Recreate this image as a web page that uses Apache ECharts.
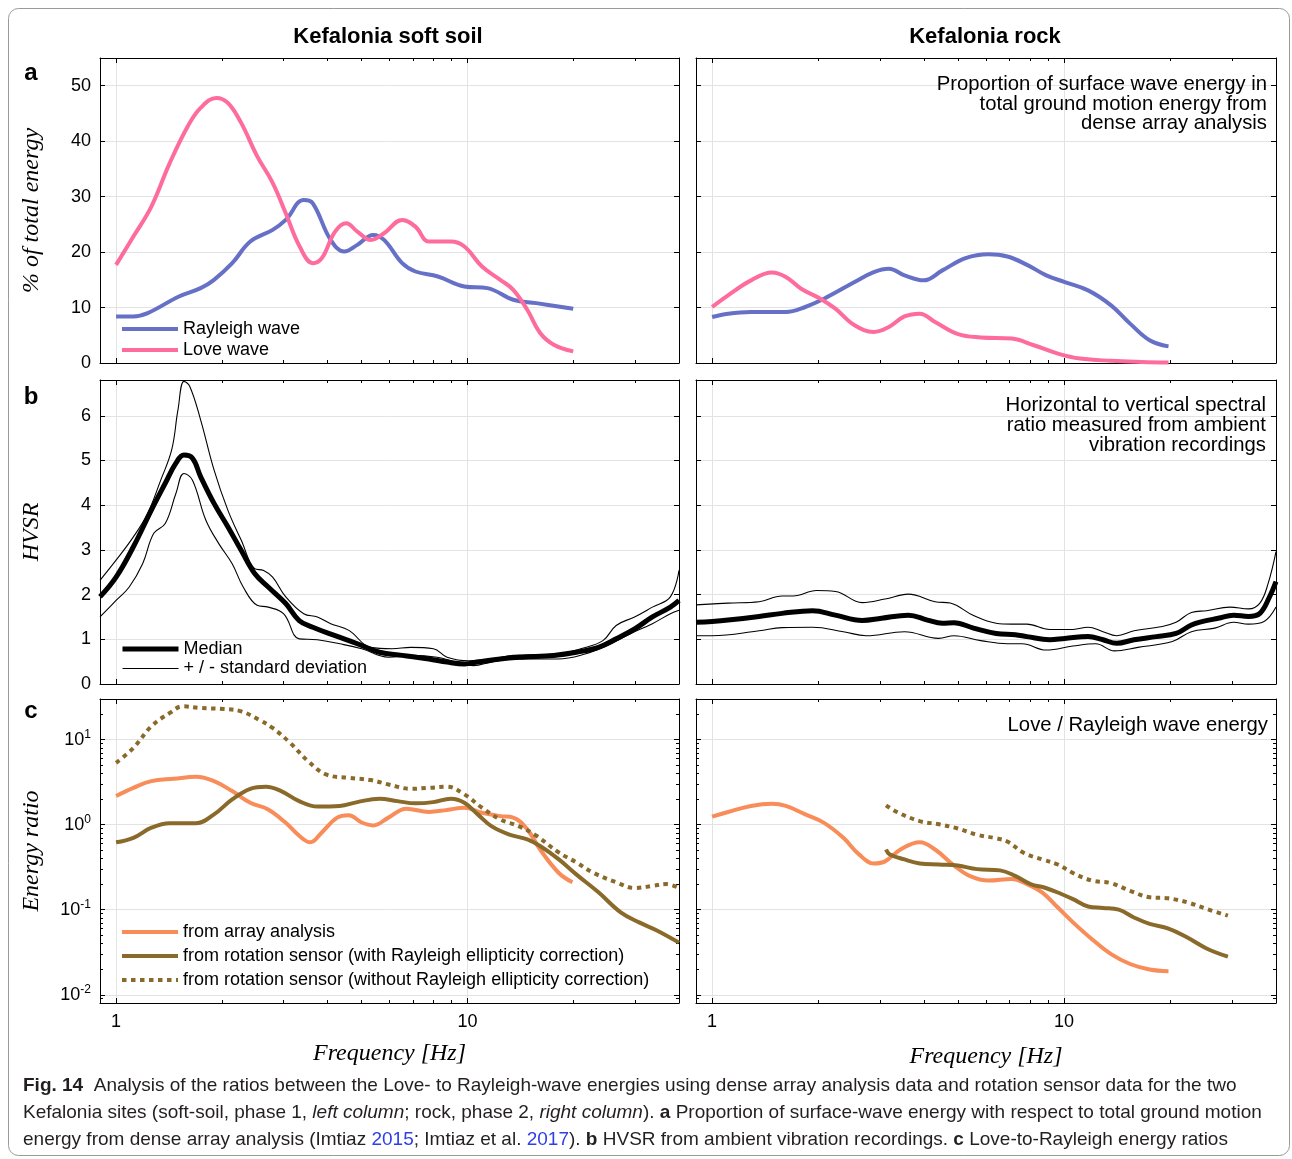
<!DOCTYPE html>
<html><head><meta charset="utf-8">
<script src="https://cdn.jsdelivr.net/npm/echarts@6/dist/echarts.min.js"></script>
<style>html,body{margin:0;padding:0;background:#fff}#c{width:1292px;height:1159px}</style>
</head><body><div id="c"></div><script>
// ---------------- data (frequency in Hz) ----------------
// a) % of total energy – soft soil
const raySoilF = [1, 1.12, 1.23, 1.51, 1.74, 1.9, 2.14, 2.41, 2.79, 3.04, 3.42, 3.63, 4.08, 4.46, 4.86, 5.39, 5.79, 6.52, 7.11, 8.24, 9.8, 11.4, 13.5, 15.7, 20];
const raySoil  = [8.4, 8.4, 9.0, 12.0, 13.5, 15.0, 18, 21.9, 24, 25.8, 29.4, 28.8, 22.2, 20.1, 21.3, 23.1, 22.2, 18, 16.5, 15.6, 13.8, 13.5, 11.4, 10.8, 9.8];
const loveSoilF = [1, 1.12, 1.26, 1.42, 1.6, 1.74, 1.93, 2.08, 2.27, 2.52, 2.79, 3.04, 3.33, 3.63, 3.85, 4.2, 4.52, 4.86, 5.31, 5.79, 6.52, 7.11, 7.77, 8.98, 9.8, 11.0, 12.4, 13.5, 14.8, 16.1, 17.6, 20];
const loveSoil  = [17.7, 22.8, 28.2, 36, 42.7, 46, 47.8, 46.9, 43.3, 37.3, 32.5, 27, 21, 18, 18.9, 23.7, 25.2, 23.7, 22.2, 23.4, 25.8, 24.6, 21.9, 21.9, 21, 17.4, 15, 13.2, 9.6, 5.4, 3.3, 2.1];
// a) rock
const rayRockF = [1, 1.11, 1.29, 1.62, 1.84, 2.08, 2.54, 2.88, 3.18, 3.52, 3.99, 4.51, 5.25, 6.1, 6.9, 7.85, 8.9, 10.05, 11.7, 13.6, 15.4, 17.5, 19.8];
const rayRock  = [8.3, 8.9, 9.2, 9.2, 10.1, 11.6, 14.6, 16.4, 17.0, 15.8, 14.9, 16.7, 18.9, 19.6, 19.2, 17.7, 15.8, 14.6, 13.1, 10.4, 7.1, 4.1, 3.0];
const loveRockF = [1, 1.11, 1.29, 1.48, 1.62, 1.79, 2.03, 2.24, 2.54, 2.88, 3.18, 3.52, 3.89, 4.3, 5.0, 5.8, 7.1, 8.2, 9.6, 11.1, 13.6, 16.6, 19.8];
const loveRock  = [10.1, 12.2, 14.9, 16.3, 15.5, 13.4, 11.6, 9.8, 6.8, 5.6, 6.5, 8.4, 8.9, 7.4, 5.2, 4.6, 4.4, 3.2, 1.7, 0.8, 0.4, 0.2, 0.1];

// b) HVSR – soft soil
const hvSoilMedF = [0.9, 1.0, 1.12, 1.26, 1.38, 1.48, 1.56, 1.65, 1.74, 1.9, 2.08, 2.27, 2.48, 2.71, 3.04, 3.32, 3.63, 4.2, 4.86, 5.62, 6.52, 7.77, 8.75, 9.8, 10.7, 12.4, 14.3, 17.6, 20.4, 23.6, 26.5, 29.9, 33.6, 37.8, 40];
const hvSoilMed  = [1.95, 2.39, 3.07, 3.89, 4.49, 4.94, 5.12, 5.05, 4.64, 4.04, 3.52, 2.99, 2.47, 2.17, 1.8, 1.42, 1.27, 1.08, 0.90, 0.71, 0.64, 0.56, 0.49, 0.45, 0.49, 0.56, 0.6, 0.64, 0.71, 0.82, 1.01, 1.23, 1.5, 1.72, 1.87];
const hvSoilUpF = [0.9, 1.0, 1.12, 1.23, 1.34, 1.44, 1.5, 1.56, 1.62, 1.74, 1.9, 2.08, 2.27, 2.48, 2.63, 2.79, 3.04, 3.42, 3.74, 4.08, 4.6, 5.3, 6.1, 6.9, 8.0, 8.75, 10.1, 11.7, 13.5, 18.1, 21, 24.3, 26.5, 29.9, 33.6, 37.8, 40];
const hvSoilUp  = [2.32, 2.77, 3.29, 3.82, 4.56, 5.24, 6.13, 6.77, 6.66, 5.91, 4.79, 3.89, 3.22, 2.58, 2.54, 2.39, 1.95, 1.57, 1.5, 1.35, 1.2, 0.82, 0.79, 0.82, 0.79, 0.6, 0.52, 0.56, 0.64, 0.67, 0.79, 0.97, 1.31, 1.5, 1.72, 1.95, 2.54];
const hvSoilLoF = [0.9, 1.0, 1.09, 1.19, 1.28, 1.38, 1.48, 1.56, 1.65, 1.8, 1.96, 2.14, 2.3, 2.52, 2.71, 3.0, 3.32, 3.74, 4.33, 5.0, 5.96, 6.9, 8.2, 9.3, 10.4, 11.7, 13.5, 18.1, 21.6, 25, 29, 33.6, 37.8, 40];
const hvSoilLo  = [1.5, 1.87, 2.17, 2.69, 3.37, 3.59, 4.26, 4.71, 4.56, 3.67, 3.14, 2.69, 2.17, 1.76, 1.72, 1.57, 1.01, 0.99, 0.9, 0.79, 0.6, 0.64, 0.6, 0.49, 0.41, 0.49, 0.56, 0.56, 0.67, 0.86, 1.12, 1.35, 1.57, 1.65];
// b) rock
const hvRockMedF = [0.9, 1.0, 1.11, 1.36, 1.58, 1.93, 2.24, 2.67, 3.03, 3.61, 4.09, 4.51, 4.87, 5.53, 6.41, 7.27, 7.84, 9.1, 10.05, 11.7, 12.9, 14.1, 15.8, 18.3, 20.8, 23.0, 24.8, 27.4, 30.3, 33.4, 36, 38.4, 40];
const hvRockMed  = [1.38, 1.4, 1.43, 1.51, 1.58, 1.64, 1.54, 1.42, 1.47, 1.54, 1.43, 1.36, 1.37, 1.25, 1.13, 1.10, 1.06, 0.99, 1.02, 1.06, 0.99, 0.91, 0.99, 1.06, 1.13, 1.32, 1.40, 1.47, 1.54, 1.51, 1.58, 1.96, 2.29];
const hvRockUpF = [0.9, 1.11, 1.36, 1.58, 1.7, 1.98, 2.24, 2.67, 3.1, 3.61, 4.3, 4.75, 5.53, 6.41, 7.1, 7.84, 9.1, 10.6, 11.7, 12.9, 14.1, 15.8, 18.8, 20.8, 23.0, 25.4, 29.6, 33.4, 36, 38, 40];
const hvRockUp  = [1.77, 1.81, 1.84, 1.97, 1.97, 2.09, 2.07, 1.82, 1.90, 2.01, 1.84, 1.81, 1.53, 1.36, 1.34, 1.34, 1.22, 1.22, 1.27, 1.17, 1.08, 1.19, 1.28, 1.38, 1.6, 1.64, 1.72, 1.68, 1.81, 2.25, 2.96];
const hvRockLoF = [0.9, 1.0, 1.36, 1.58, 1.93, 2.36, 2.74, 3.52, 4.4, 4.87, 5.8, 6.9, 7.6, 8.9, 10.6, 12.3, 13.9, 16.2, 20.3, 23.0, 26.8, 30.3, 33.4, 37, 40];
const hvRockLo  = [1.08, 1.08, 1.19, 1.26, 1.27, 1.17, 1.08, 1.17, 1.02, 1.08, 0.97, 0.9, 0.9, 0.76, 0.85, 0.9, 0.74, 0.82, 0.95, 1.17, 1.25, 1.38, 1.34, 1.4, 1.72];

// c) Love / Rayleigh energy ratio – soft soil
const arrSoilF = [1, 1.12, 1.26, 1.46, 1.69, 1.9, 2.14, 2.41, 2.71, 3.04, 3.32, 3.57, 3.85, 4.26, 4.59, 5.0, 5.39, 5.96, 6.7, 7.77, 8.75, 9.8, 11.0, 12.4, 13.5, 14.8, 16.1, 18.2, 19.9];
const arrSoil  = [2.17, 2.71, 3.25, 3.46, 3.65, 3.25, 2.48, 1.81, 1.51, 1.05, 0.74, 0.62, 0.81, 1.21, 1.29, 1.06, 0.98, 1.21, 1.54, 1.41, 1.49, 1.58, 1.38, 1.26, 1.21, 0.88, 0.51, 0.27, 0.21];
const rotSoilF = [1, 1.12, 1.26, 1.42, 1.69, 1.9, 2.14, 2.41, 2.67, 2.95, 3.32, 3.74, 4.33, 4.86, 5.62, 6.32, 7.11, 7.99, 8.98, 9.8, 10.7, 11.7, 13.1, 14.8, 16.1, 18.2, 20.4, 23.6, 27.3, 30.8, 34.6, 40];
const rotSoil  = [0.62, 0.70, 0.92, 1.04, 1.04, 1.32, 1.98, 2.64, 2.79, 2.48, 1.89, 1.63, 1.66, 1.84, 2.02, 1.89, 1.78, 1.84, 2.02, 1.81, 1.32, 0.96, 0.77, 0.67, 0.56, 0.39, 0.26, 0.16, 0.093, 0.071, 0.057, 0.041];
const rotNcSoilF = [1, 1.12, 1.26, 1.42, 1.55, 1.74, 2.02, 2.27, 2.55, 2.79, 3.13, 3.52, 3.96, 4.59, 5.31, 5.96, 6.9, 7.77, 8.75, 9.8, 11.0, 12.4, 14.0, 15.7, 18.2, 20.4, 22.9, 26.5, 29.9, 33.6, 36.7, 40];
const rotNcSoil  = [5.33, 7.98, 14.3, 20.5, 24.6, 23.5, 22.9, 21.5, 17.1, 13.7, 9.14, 5.57, 3.89, 3.56, 3.34, 2.97, 2.64, 2.71, 2.79, 2.27, 1.58, 1.15, 0.96, 0.74, 0.47, 0.36, 0.27, 0.21, 0.18, 0.19, 0.2, 0.18];
// c) rock
const arrRockF = [1, 1.11, 1.29, 1.48, 1.62, 1.84, 2.08, 2.36, 2.61, 2.88, 3.1, 3.43, 3.89, 4.3, 4.87, 5.39, 6.1, 7.1, 7.84, 8.66, 9.6, 10.6, 12, 13.6, 15.4, 17.5, 19.8];
const arrRock  = [1.24, 1.41, 1.66, 1.76, 1.66, 1.32, 1.05, 0.70, 0.45, 0.35, 0.37, 0.51, 0.62, 0.51, 0.33, 0.25, 0.22, 0.23, 0.2, 0.16, 0.106, 0.071, 0.045, 0.030, 0.023, 0.0198, 0.0189];
const rotRockF = [3.12, 3.19, 3.52, 3.89, 4.41, 4.99, 5.66, 6.58, 7.26, 8.03, 8.87, 9.82, 10.6, 11.7, 12.9, 14.3, 15.8, 17.5, 19.8, 22.4, 25.4, 29.2];
const rotRock  = [0.51, 0.45, 0.39, 0.35, 0.34, 0.33, 0.30, 0.29, 0.25, 0.2, 0.18, 0.153, 0.133, 0.109, 0.105, 0.1, 0.081, 0.068, 0.060, 0.047, 0.035, 0.028];
const rotNcRockF = [3.12, 3.35, 3.89, 4.41, 4.99, 5.66, 6.42, 6.92, 7.65, 8.66, 9.6, 10.6, 12, 13.6, 15.4, 17.5, 19.8, 22.4, 25.4, 29.2];
const rotNcRock  = [1.69, 1.41, 1.1, 1.01, 0.9, 0.76, 0.69, 0.63, 0.47, 0.39, 0.34, 0.27, 0.22, 0.205, 0.167, 0.14, 0.136, 0.122, 0.102, 0.085];

// ticks / labels
const X_MIN = 0.9, X_MAX = 40;
const X_LABELS = [1, 10];
const X_MINOR = [2, 3, 4, 5, 6, 7, 8, 9, 20, 30];
const Y_LOG_MINOR = [0.009, 0.02, 0.03, 0.04, 0.05, 0.06, 0.07, 0.08, 0.09, 0.2, 0.3, 0.4, 0.5, 0.6, 0.7, 0.8, 0.9, 2, 3, 4, 5, 6, 7, 8, 9, 20];
const COL_TITLES = ['Kefalonia soft soil', 'Kefalonia rock'];
const ROW_NAMES = ['% of total energy', 'HVSR', 'Energy ratio'];

// ---------------- layout / style ----------------
const SANS = 'Liberation Sans, Arial, sans-serif';
const SERIF = 'Liberation Serif, Times New Roman, serif';
const GRID_COLOR = '#e3e3e3';
const C_RAY = '#6670c6', C_LOVE = '#fd6c9c', C_ARR = '#f88d5a', C_ROT = '#8a6a2a';

const grids = [
  {left: 100, top: 58, width: 579, height: 305},
  {left: 696, top: 58, width: 580, height: 305},
  {left: 100, top: 380, width: 579, height: 304},
  {left: 696, top: 380, width: 580, height: 304},
  {left: 100, top: 699, width: 579, height: 304},
  {left: 696, top: 699, width: 580, height: 304}
].map(g => Object.assign({outerBoundsMode: 'none', containLabel: false, show: false}, g));

const yCfg = [
  {type: 'value', min: 0, max: 55, interval: 10},
  {type: 'value', min: 0, max: 6.8, interval: 1},
  {type: 'log', min: 0.008, max: 30}
];

const xAxes = [], yAxes = [], xMain = [], yMain = [];
const tick = (len, extra) => Object.assign({show: true, inside: true, length: len, lineStyle: {color: '#000', width: 1}}, extra || {});
const noLine = {show: false, onZero: false};
const blackLine = {show: true, onZero: false, lineStyle: {color: '#000', width: 1}};
const NAME_STYLE = {fontFamily: SERIF, fontStyle: 'italic', fontSize: 24, color: '#000'};

grids.forEach((gr, g) => {
  const row = Math.floor(g / 2), col = g % 2;
  const xb = {type: 'log', logBase: 10, gridIndex: g, min: X_MIN, max: X_MAX};
  xMain[g] = xAxes.length;
  xAxes.push(Object.assign({}, xb, {
    position: 'bottom', axisLine: blackLine, axisTick: tick(5),
    splitLine: {show: true, lineStyle: {color: GRID_COLOR, width: 1}},
    axisLabel: {show: row === 2, margin: 10, fontSize: 18, fontFamily: SANS, color: '#000',
      formatter: v => X_LABELS.some(l => Math.abs(v - l) < 1e-6) ? String(Math.round(v)) : ''},
    name: row === 2 ? 'Frequency [Hz]' : '', nameLocation: 'middle', nameGap: col ? 42 : 39,
    nameTextStyle: NAME_STYLE
  }));
  xAxes.push(Object.assign({}, xb, {position: 'bottom', axisLine: noLine, axisTick: tick(3, {customValues: X_MINOR}), axisLabel: {show: false}, splitLine: {show: false}}));
  xAxes.push(Object.assign({}, xb, {position: 'top', axisLine: blackLine, axisTick: tick(5), axisLabel: {show: false}, splitLine: {show: false}}));
  xAxes.push(Object.assign({}, xb, {position: 'top', axisLine: noLine, axisTick: tick(3, {customValues: X_MINOR}), axisLabel: {show: false}, splitLine: {show: false}}));

  const yc = yCfg[row];
  const yb = Object.assign({gridIndex: g}, yc);
  let fmt;
  if (yc.type === 'log') {
    fmt = v => { const e = Math.log10(v); const r = Math.round(e); return Math.abs(e - r) < 1e-6 ? '10{sup|' + r + '}' : ''; };
  } else {
    fmt = v => { const q = v / yc.interval; return Math.abs(q - Math.round(q)) < 1e-6 ? String(Math.round(v)) : ''; };
  }
  yMain[g] = yAxes.length;
  yAxes.push(Object.assign({}, yb, {
    position: 'left', axisLine: blackLine, axisTick: tick(5),
    splitLine: {show: true, lineStyle: {color: GRID_COLOR, width: 1}},
    axisLabel: {show: col === 0, margin: 9, fontSize: 18, fontFamily: SANS, color: '#000', formatter: fmt,
      rich: {sup: {fontSize: 12, fontFamily: SANS, color: '#000', padding: [0, 0, 10, 0]}}},
    name: col === 0 ? ROW_NAMES[row] : '', nameLocation: 'middle', nameGap: 56, nameRotate: 90,
    nameTextStyle: NAME_STYLE
  }));
  yAxes.push(Object.assign({}, yb, {position: 'right', axisLine: blackLine, axisTick: tick(5), axisLabel: {show: false}, splitLine: {show: false}}));
  if (yc.type === 'log') {
    yAxes.push(Object.assign({}, yb, {position: 'left', axisLine: noLine, axisTick: tick(3, {customValues: Y_LOG_MINOR}), axisLabel: {show: false}, splitLine: {show: false}}));
    yAxes.push(Object.assign({}, yb, {position: 'right', axisLine: noLine, axisTick: tick(3, {customValues: Y_LOG_MINOR}), axisLabel: {show: false}, splitLine: {show: false}}));
  }
});

const pts = (f, v) => f.map((x, i) => [x, v[i]]);
function line(name, g, f, v, color, width, type) {
  return {type: 'line', name, xAxisIndex: xMain[g], yAxisIndex: yMain[g], data: pts(f, v),
    smooth: 0.4, symbol: 'none', showSymbol: false, animation: false, z: 3,
    lineStyle: {color, width, type: type || 'solid', cap: 'butt'}, itemStyle: {color},
    emphasis: {disabled: true}};
}
const DOT = [4.5, 4.5];
const N_RAY = 'Rayleigh wave', N_LOVE = 'Love wave', N_MED = 'Median', N_STD = '+ / - standard deviation';
const N_ARR = 'from array analysis', N_ROT = 'from rotation sensor (with Rayleigh ellipticity correction)', N_NC = 'from rotation sensor (without Rayleigh ellipticity correction)';
const series = [
  line(N_RAY, 0, raySoilF, raySoil, C_RAY, 4), line(N_LOVE, 0, loveSoilF, loveSoil, C_LOVE, 4),
  line(N_RAY, 1, rayRockF, rayRock, C_RAY, 4), line(N_LOVE, 1, loveRockF, loveRock, C_LOVE, 4),
  line(N_MED, 2, hvSoilMedF, hvSoilMed, '#000', 5), line(N_STD, 2, hvSoilUpF, hvSoilUp, '#000', 1.1), line(N_STD, 2, hvSoilLoF, hvSoilLo, '#000', 1.1),
  line(N_MED, 3, hvRockMedF, hvRockMed, '#000', 5), line(N_STD, 3, hvRockUpF, hvRockUp, '#000', 1.1), line(N_STD, 3, hvRockLoF, hvRockLo, '#000', 1.1),
  line(N_ARR, 4, arrSoilF, arrSoil, C_ARR, 4), line(N_ROT, 4, rotSoilF, rotSoil, C_ROT, 4), line(N_NC, 4, rotNcSoilF, rotNcSoil, C_ROT, 4, DOT),
  line(N_ARR, 5, arrRockF, arrRock, C_ARR, 4), line(N_ROT, 5, rotRockF, rotRock, C_ROT, 4), line(N_NC, 5, rotNcRockF, rotNcRock, C_ROT, 4, DOT)
];

function legend(names, top, lh, gap) {
  return {data: names, orient: 'vertical', left: 120, top, padding: 0, itemWidth: 56, itemHeight: 14, itemGap: gap,
    selectedMode: false, lineStyle: {width: 'inherit'}, itemStyle: {opacity: 0, borderWidth: 0}, inactiveColor: '#000',
    textStyle: {fontSize: 18, fontFamily: SANS, color: '#000', lineHeight: lh}};
}

const base = {fontFamily: SANS, fontSize: 19, fill: '#231f20'};
const rich = {
  b: Object.assign({}, base, {fontWeight: 'bold'}),
  i: Object.assign({}, base, {fontStyle: 'italic'}),
  l: Object.assign({}, base, {fill: '#2d3fe6'}),
  n: Object.assign({}, base)
};
const CAPTION = [
  '{b|Fig. 14}{n|  Analysis of the ratios between the Love- to Rayleigh-wave energies using dense array analysis data and rotation sensor data for the two}',
  '{n|Kefalonia sites (soft-soil, phase 1, }{i|left column}{n|; rock, phase 2, }{i|right column}{n|). }{b|a}{n| Proportion of surface-wave energy with respect to total ground motion}',
  '{n|energy from dense array analysis (Imtiaz }{l|2015}{n|; Imtiaz et al. }{l|2017}{n|). }{b|b}{n| HVSR from ambient vibration recordings. }{b|c}{n| Love-to-Rayleigh energy ratios}'
];
const capY = [1086, 1113, 1140];

function txt(x, y, text, font, align, extra) {
  return {type: 'text', x, y, z: 10, silent: true, style: Object.assign({text, font, fill: '#000', align: align || 'left', textAlign: align || 'left', verticalAlign: 'middle', textVerticalAlign: 'middle'}, extra || {})};
}
const ANN_FONT = '20.3px Liberation Sans';
const graphic = [
  {type: 'rect', shape: {x: 8.5, y: 8.5, width: 1281, height: 1147, r: 10}, style: {fill: 'none', stroke: '#9a9a9a', lineWidth: 1}, silent: true},
  txt(388, 37, COL_TITLES[0], 'bold 22px Liberation Sans', 'center'),
  txt(985, 37, COL_TITLES[1], 'bold 22px Liberation Sans', 'center'),
  txt(31, 73, 'a', 'bold 24px Liberation Sans', 'center'),
  txt(31, 397, 'b', 'bold 24px Liberation Sans', 'center'),
  txt(31, 711, 'c', 'bold 24px Liberation Sans', 'center'),
  {type: 'text', x: 1267, y: 75, z: 10, silent: true, style: {text: 'Proportion of surface wave energy in\ntotal ground motion energy from\ndense array analysis', font: ANN_FONT, lineHeight: 19.5, fill: '#000', align: 'right', textAlign: 'right', verticalAlign: 'top', textVerticalAlign: 'top'}},
  {type: 'text', x: 1266, y: 395, z: 10, silent: true, style: {text: 'Horizontal to vertical spectral\nratio measured from ambient\nvibration recordings', font: ANN_FONT, lineHeight: 20, fill: '#000', align: 'right', textAlign: 'right', verticalAlign: 'top', textVerticalAlign: 'top'}},
  txt(1268, 725, 'Love / Rayleigh wave energy', ANN_FONT, 'right')
];
CAPTION.forEach((t, i) => graphic.push({type: 'text', x: 23, y: capY[i], z: 10, silent: true,
  style: {text: t, rich, fontFamily: SANS, fontSize: 19, fill: '#231f20', align: 'left', textAlign: 'left', verticalAlign: 'middle', textVerticalAlign: 'middle'}}));

const chart = echarts.init(document.getElementById('c'), null, {renderer: 'canvas', width: 1292, height: 1159});
chart.setOption({
  backgroundColor: '#fff',
  animation: false,
  grid: grids,
  xAxis: xAxes,
  yAxis: yAxes,
  legend: [
    legend([N_RAY, N_LOVE], 319, 20, 1),
    legend([N_MED, N_STD], 639.5, 19, 0.5),
    legend([N_ARR, N_ROT, N_NC], 922, 20, 4)
  ],
  series,
  graphic
});
</script></body></html>
